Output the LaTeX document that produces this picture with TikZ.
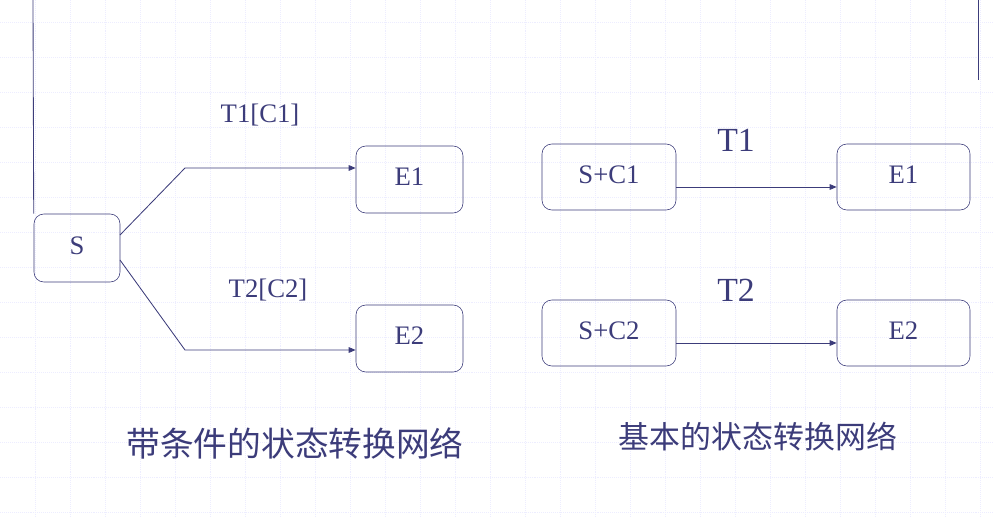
\documentclass[tikz,border=0pt]{standalone}
\usepackage{fontspec}
\setmainfont{Liberation Serif}
\newfontfamily\cjk{Noto Sans CJK SC}
\usetikzlibrary{arrows.meta}
\definecolor{navy}{HTML}{3C3C7A}
\newcommand{\up}[1]{\raisebox{4pt}{#1}}
\tikzstyle{state} = [rectangle, rounded corners=7pt, draw=navy, text=navy, inner sep=0pt, font=\fontsize{19}{22}\selectfont]
\tikzstyle{edge} = [draw=navy, line width=0.6pt, -{Triangle[length=5pt,width=4pt]}]
\tikzstyle{lbl} = [text=navy, font=\fontsize{19}{22}\selectfont]
\tikzstyle{biglbl} = [text=navy, font=\fontsize{24}{27}\selectfont]
\tikzstyle{caption} = [text=navy, font=\cjk\fontsize{24}{27}\selectfont]

\begin{document}
\begin{tikzpicture}[x=0.025cm, y=-0.025cm]
\useasboundingbox (0,0) rectangle (993,517);
% background grid
\foreach \gx in {35,70,...,980} \draw[blue!7, densely dotted] (\gx,0) -- (\gx,517);
\foreach \gy in {22,57,...,517} \draw[blue!7, densely dotted] (0,\gy) -- (993,\gy);

% conditional network
\node (s) [state, minimum width=86*0.025cm, minimum height=68*0.025cm] at (77,248) {\up{S}};
\node (e1) [state, minimum width=107*0.025cm, minimum height=67*0.025cm] at (409.5,179.5) {\up{E1}};
\node (e2) [state, minimum width=107*0.025cm, minimum height=67*0.025cm] at (409.5,338.5) {\up{E2}};
\coordinate (s1) at (120,235);
\coordinate (s2) at (120,260);
\coordinate (k1) at (185,168);
\coordinate (k2) at (185,350);
\coordinate (top) at (33,0);
\coordinate (rtop) at (978,0);
\coordinate (rbot) at (978,80);
\draw[navy, line width=0.6pt] (top) -- (s.north west);
\draw[navy, line width=0.6pt] (rtop) -- (rbot);
\draw [edge] (s1) -- (k1) -- (k1 -| e1.west);
\draw [edge] (s2) -- (k2) -- (k2 -| e2.west);
\node (t1c1) [lbl] at (260,115) {T1[C1]};
\node (t2c2) [lbl] at (268,290) {T2[C2]};
\node (cap1) [caption] at (295,443) {带条件的状态转换网络};

% basic network
\node (sc1) [state, minimum width=134*0.025cm, minimum height=66*0.025cm] at (609,177) {\up{S+C1}};
\node (f1) [state, minimum width=133*0.025cm, minimum height=66*0.025cm] at (903.5,177) {\up{E1}};
\node (sc2) [state, minimum width=134*0.025cm, minimum height=66*0.025cm] at (609,333) {\up{S+C2}};
\node (f2) [state, minimum width=133*0.025cm, minimum height=66*0.025cm] at (903.5,333) {\up{E2}};
\coordinate (a1) at (676,187);
\coordinate (a2) at (676,343);
\draw [edge] (a1) -- (a1 -| f1.west);
\draw [edge] (a2) -- (a2 -| f2.west);
\node (t1) [biglbl] at (736,140) {T1};
\node (t2) [biglbl] at (736,290) {T2};
\node (cap2) [caption, font=\cjk\fontsize{22}{25}\selectfont] at (758,437) {基本的状态转换网络};
\end{tikzpicture}
\end{document}
